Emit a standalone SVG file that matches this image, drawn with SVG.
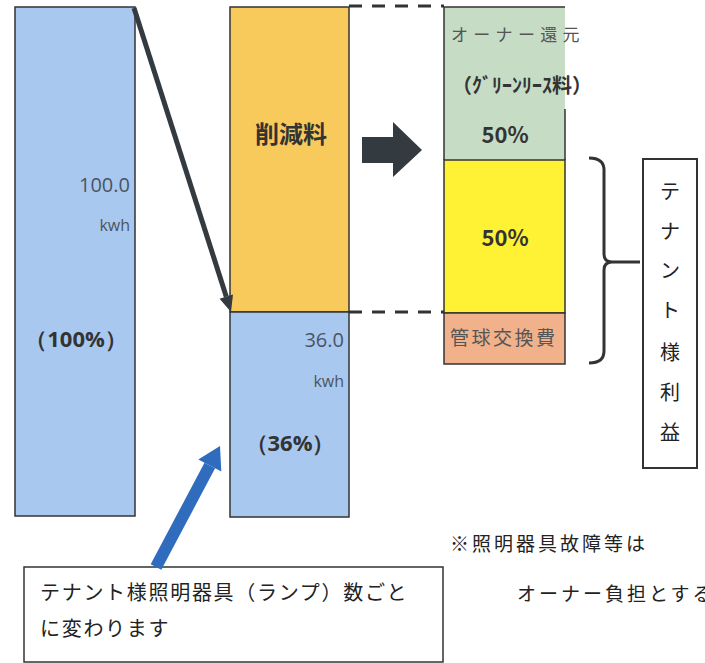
<svg xmlns="http://www.w3.org/2000/svg" width="705" height="663" viewBox="0 0 705 663">
<style>
.bar{stroke:#333;stroke-width:1.5}
.jp{font-family:"Noto Sans CJK JP","Noto Sans",sans-serif}
.num{font-family:"Open Sans","Noto Sans",sans-serif;fill:#4a5560}
.b{font-weight:bold;fill:#333}
.g{fill:#555}
.dash{stroke:#333;stroke-width:3;stroke-dasharray:13 10;fill:none}
</style>
<rect width="705" height="663" fill="#fff"/>
<g id="bar-left">
<rect class="bar" x="15" y="7" width="120" height="509" fill="#a9c8f0"/>
<text class="num" x="130" y="192" font-size="20" text-anchor="end">100.0</text>
<text class="num" x="130" y="231" font-size="16" text-anchor="end">kwh</text>
<text class="num b" x="76" y="347" font-size="22" text-anchor="middle">（100%）</text>
</g>
<g id="bar-reduction">
<rect class="bar" x="230" y="7" width="119" height="305" fill="#f8c95b"/>
<text class="jp b" x="291" y="143" font-size="24" text-anchor="middle">削減料</text>
</g>
<g id="bar-after">
<rect class="bar" x="230" y="312" width="119" height="205" fill="#a9c8f0"/>
<text class="num" x="344" y="347" font-size="20" text-anchor="end">36.0</text>
<text class="num" x="344" y="387" font-size="16" text-anchor="end">kwh</text>
<text class="num b" x="290" y="451" font-size="22" text-anchor="middle">（36%）</text>
</g>
<g id="owner">
<rect x="444" y="7" width="121" height="153" fill="#c6dcc5"/>
<path d="M444,160 V7 H565 M565,109 V160" fill="none" stroke="#333" stroke-width="1.5"/>
<text class="jp g" x="451" y="41" font-size="17" letter-spacing="5.3">オーナー還元</text>
<text class="jp b" x="522" y="93" font-size="20" text-anchor="middle">（ｸﾞﾘｰﾝﾘｰｽ料）</text>
<text class="jp b" x="505" y="143" font-size="22" text-anchor="middle">50%</text>
</g>
<g id="tenant-share">
<rect class="bar" x="444" y="160" width="121" height="153" fill="#fff234"/>
<text class="jp b" x="505" y="246" font-size="22" text-anchor="middle">50%</text>
</g>
<g id="lamp-cost">
<rect class="bar" x="444" y="313" width="121" height="51" fill="#f1b18b"/>
<text class="jp g" x="450" y="345" font-size="19" letter-spacing="2.5">管球交換費</text>
</g>
<g id="tenant-profit">
<rect x="643" y="159" width="54" height="309" fill="#fff" stroke="#333" stroke-width="2"/>
<g class="jp" font-size="20" fill="#222" text-anchor="middle">
<text x="670" y="199">テ</text>
<text x="670" y="239">ナ</text>
<text x="670" y="278">ン</text>
<text x="670" y="318">ト</text>
<text x="670" y="360">様</text>
<text x="670" y="400">利</text>
<text x="670" y="440">益</text>
</g>
</g>
<g id="lamp-note">
<rect x="24" y="567" width="419" height="95" fill="#fff" stroke="#333" stroke-width="1.5"/>
<text class="jp" x="40" y="600" font-size="20" letter-spacing="1.7" fill="#222">テナント様照明器具（ランプ）数ごと</text>
<text class="jp" x="40" y="636" font-size="20" letter-spacing="1.7" fill="#222">に変わります</text>
</g>
<g id="failure-note">
<text class="jp" x="450" y="551" font-size="19" letter-spacing="3" fill="#222">※照明器具故障等は</text>
<text class="jp" x="517" y="601" font-size="19" letter-spacing="3" fill="#222">オーナー負担とする</text>
</g>
<g id="connectors">
<path class="dash" d="M349,6 H444"/>
<path class="dash" d="M349,312 H444"/>
<line x1="134" y1="8" x2="226.3" y2="296.7" stroke="#333a40" stroke-width="5"/>
<polygon points="231,312 233,294.6 219.6,298.8" fill="#333a40"/>
<polygon points="362,137 393,137 393,122 422,150 393,177 393,163 362,163" fill="#333a40"/>
<line x1="156" y1="567" x2="209.8" y2="465.5" stroke="#2f6cbd" stroke-width="12"/>
<polygon points="220,446 221.3,471.5 198.3,459.5" fill="#2f6cbd"/>
<path d="M589,158 Q604,158 604,170 V254 Q604,262 612,262 H640 M612,262 Q604,262 604,270 V351 Q604,363 589,363" fill="none" stroke="#333" stroke-width="3"/>
</g>
</svg>
